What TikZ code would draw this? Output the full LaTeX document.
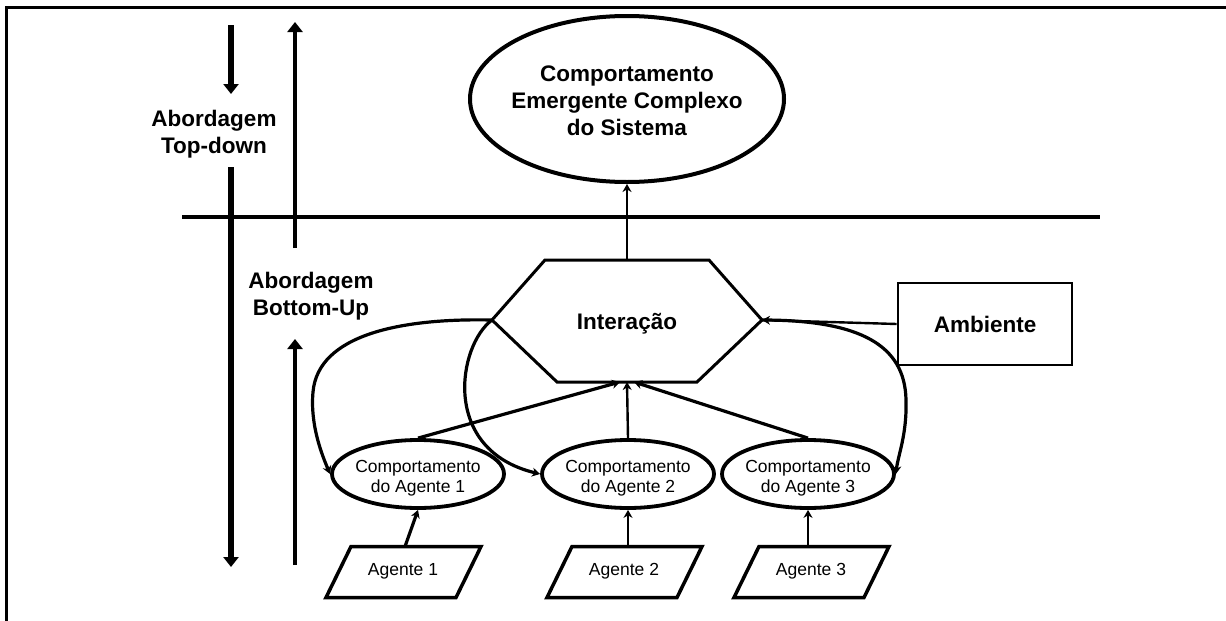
\documentclass[tikz,border=0pt]{standalone}
\usepackage{fontspec}
\setmainfont{Liberation Sans}
\usetikzlibrary{arrows.meta,shapes.geometric,calc}
\newcommand{\zwbox}[2]{\raisebox{#1}[0pt][0pt]{\makebox[0pt]{\begin{tabular}{@{}c@{}}#2\end{tabular}}}}
\tikzset{
  bigtxt/.style={font=\fontsize{22.5}{27}\selectfont\bfseries, inner sep=0pt, align=center},
  smalltxt/.style={font=\fontsize{17.5}{20}\selectfont, inner sep=0pt},
  bigell/.style={draw, ellipse, line width=4pt, inner sep=0pt, minimum width=314pt, minimum height=166pt, font=\fontsize{22.5}{27}\selectfont\bfseries},
  agell/.style={draw, ellipse, line width=3.8pt, inner sep=0pt, minimum width=172pt, minimum height=68pt, font=\fontsize{17.5}{20}\selectfont},
  framel/.style={line width=3pt},
  heavyln/.style={line width=5.5pt},
  upln/.style={line width=3.5pt},
  hexline/.style={line width=3pt, line join=miter},
  conn/.style={line width=3.2pt},
  thinconn/.style={line width=2.4pt},
  para/.style={line width=3.5pt, line join=miter},
  tip/.style={-{Stealth[length=8pt,width=9pt]}},
  bigtip/.style={-{Triangle[length=10pt,width=15pt]}},
}
\begin{document}
\begin{tikzpicture}[x=1pt,y=-1pt]
\useasboundingbox (0,0) rectangle (1226,621);
% frame
\coordinate (f0) at (6,7);
\coordinate (f1) at (1226,7);
\coordinate (f2) at (6,621);
\draw[framel] (f1) -- (f0) -- (f2);

% left arrows and labels
\coordinate (td0) at (231,25);
\coordinate (td1) at (231,94);
\coordinate (td2) at (231,167);
\coordinate (td3) at (231,567);
\coordinate (bu0) at (295,248);
\coordinate (bu1) at (295,22);
\coordinate (bu2) at (295,565);
\coordinate (bu3) at (295,339);
\draw[heavyln, bigtip] (td0) -- (td1);
\draw[heavyln, bigtip] (td2) -- (td3);
\draw[upln, bigtip] (bu0) -- (bu1);
\draw[upln, bigtip] (bu2) -- (bu3);
\node[bigtxt] (tdlab) at (214,134) {Abordagem\\Top-down};
\node[bigtxt] (bulab) at (311,296) {Abordagem\\Bottom-Up};

% separator
\coordinate (s0) at (182,217);
\coordinate (s1) at (1100,217);
\draw[line width=4.5pt] (s0) -- (s1);

% top ellipse
\node[bigell] (top) at (627,99) {\zwbox{-9pt}{Comportamento\\Emergente Complexo\\do Sistema}};

% hexagon
\coordinate (hL) at (492,320);
\coordinate (hR) at (762,320);
\coordinate (hT) at (627,260);
\coordinate (hB) at (627,382);
\coordinate (hB1) at (620,382);
\coordinate (hB2) at (634,382);
\draw[hexline] (hL) -- (545,260) -- (709,260) -- (hR) -- (697,382) -- (557,382) -- cycle;
\node[bigtxt] (inter) at (627,324) {Interação};

% ambiente
\node[draw, line width=2.6pt, minimum width=174pt, minimum height=82pt, inner sep=0pt,
      font=\fontsize{22.5}{27}\selectfont\bfseries] (amb) at (985,324) {Ambiente};

% agent behaviour ellipses
\node[agell] (e1) at (418,474) {\zwbox{-8.5pt}{Comportamento\\do Agente 1}};
\node[agell] (e2) at (628,474) {\zwbox{-8.5pt}{Comportamento\\do Agente 2}};
\node[agell] (e3) at (808,474) {\zwbox{-8.5pt}{Comportamento\\do Agente 3}};

% agents (parallelograms)
\node[smalltxt] (a1) at (403,571) {Agente 1};
\node[smalltxt] (a2) at (624,571) {Agente 2};
\node[smalltxt] (a3) at (811,571) {Agente 3};
\foreach \a in {a1,a2,a3}{
  \draw[para] ($(\a)+(-52,-24.5)$) -- ++(130,0) -- ++(-25,51) -- ++(-130,0) -- cycle;
}
\coordinate (a1t) at ($(a1)+(2,-24.5)$);
\coordinate (a2t) at ($(a2)+(0,-24.5)$);
\coordinate (a3t) at ($(a3)+(0,-24.5)$);

% connectors
\draw[thinconn, tip] (hT) -- (top.south);
\draw[thinconn, tip] (amb.west) -- (hR);
\draw[conn, tip] (a1t) -- (e1.south);
\draw[thinconn, tip] (a2t -| e2.south) -- (e2.south);
\draw[thinconn, tip] (a3t -| e3.south) -- (e3.south);
\draw[conn, tip] (e1.north) -- (hB1);
\draw[conn, tip] (e3.north) -- (hB2);
\draw[thinconn, tip] (e2.north) -- (hB);
\draw[conn, tip] (hL) .. controls (400,318) and (318,335) .. (313,392)
   .. controls (310,425) and (322,455) .. (e1.west);
\draw[conn, tip] (hL) .. controls (458,345) and (440,450) .. (e2.west);
\draw[conn, tip] (hR) .. controls (860,320) and (905,345) .. (906,400)
   .. controls (907,435) and (898,455) .. (e3.east);
\end{tikzpicture}
\end{document}
